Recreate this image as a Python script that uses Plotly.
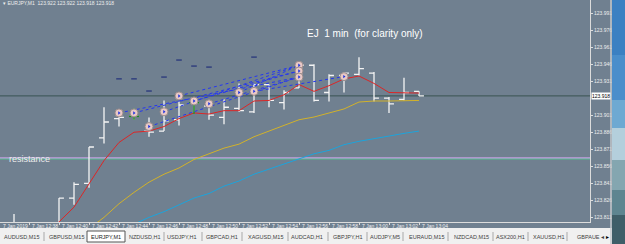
import plotly.graph_objects as go
import pandas as pd

# ---------------- data ----------------
times = ["2019-01-07 12:37", "2019-01-07 12:38", "2019-01-07 12:39", "2019-01-07 12:40",
         "2019-01-07 12:41", "2019-01-07 12:42", "2019-01-07 12:43", "2019-01-07 12:44",
         "2019-01-07 12:45", "2019-01-07 12:46", "2019-01-07 12:47", "2019-01-07 12:48",
         "2019-01-07 12:49", "2019-01-07 12:50", "2019-01-07 12:51", "2019-01-07 12:52",
         "2019-01-07 12:53", "2019-01-07 12:54", "2019-01-07 12:55", "2019-01-07 12:56",
         "2019-01-07 12:57", "2019-01-07 12:58", "2019-01-07 12:59", "2019-01-07 13:00",
         "2019-01-07 13:01", "2019-01-07 13:02", "2019-01-07 13:03", "2019-01-07 13:04"]
opens = [123.802, 123.803, 123.795, 123.800, 123.828, 123.841, 123.881, 123.898,
         123.900, 123.887, 123.887, 123.897, 123.912, 123.909, 123.899, 123.907,
         123.904, 123.928, 123.912, 123.925, 123.945, 123.921, 123.936, 123.937,
         123.938, 123.916, 123.915, 123.922]
highs = [123.814, 123.805, 123.804, 123.828, 123.842, 123.873, 123.908, 123.901,
         123.907, 123.899, 123.914, 123.913, 123.916, 123.913, 123.915, 123.929,
         123.929, 123.928, 123.923, 123.947, 123.946, 123.937, 123.939, 123.952,
         123.939, 123.917, 123.934, 123.922]
lows = [123.798, 123.790, 123.792, 123.798, 123.822, 123.837, 123.876, 123.891,
        123.897, 123.882, 123.887, 123.892, 123.902, 123.897, 123.893, 123.904,
        123.903, 123.908, 123.906, 123.925, 123.913, 123.913, 123.921, 123.936,
        123.913, 123.903, 123.914, 123.918]
closes = [123.803, 123.795, 123.800, 123.828, 123.840, 123.873, 123.895, 123.899,
          123.900, 123.886, 123.896, 123.910, 123.912, 123.901, 123.908, 123.905,
          123.928, 123.914, 123.921, 123.945, 123.914, 123.936, 123.938, 123.942,
          123.916, 123.911, 123.921, 123.918]

ma_red = [None, None, 123.795, 123.807, 123.820, 123.840, 123.861, 123.877,
          123.886, 123.887, 123.891, 123.898, 123.903, 123.902, 123.905, 123.905,
          123.9135, 123.914, 123.919, 123.928, 123.922, 123.927, 123.933, 123.9355,
          123.929, 123.921, 123.921, 123.9205]
ma_yellow = [None, None, None, None, None, 123.801, 123.811, 123.823,
             123.833, 123.842, 123.849, 123.8545, 123.862, 123.867, 123.872, 123.8755,
             123.882, 123.887, 123.892, 123.897, 123.8994, 123.903, 123.9065, 123.9126,
             123.9135, 123.9135, 123.914, 123.914]
ma_cyan = [None, None, None, None, None, None, None, None,
           123.805, 123.811, 123.816, 123.822, 123.828, 123.832, 123.8385, 123.843,
           123.849, 123.8535, 123.858, 123.862, 123.867, 123.870, 123.875, 123.878,
           123.880, 123.8826, 123.885, 123.887]

doji_times = ["2019-01-07 12:45", "2019-01-07 12:49"]
doji_high = [123.907, 123.916]
doji_low = [123.897, 123.902]
doji_mid = [123.900, 123.912]

circle_times = ["2019-01-07 12:44", "2019-01-07 12:45", "2019-01-07 12:46", "2019-01-07 12:47",
                "2019-01-07 12:48", "2019-01-07 12:49", "2019-01-07 12:50", "2019-01-07 12:52",
                "2019-01-07 12:53", "2019-01-07 12:56", "2019-01-07 12:56", "2019-01-07 12:56",
                "2019-01-07 12:59"]
circle_prices = [123.903, 123.903, 123.891, 123.904, 123.918, 123.9135, 123.911, 123.921,
                 123.922, 123.945, 123.940, 123.9346, 123.935]

tl_start_t = ["2019-01-07 12:44", "2019-01-07 12:45", "2019-01-07 12:46", "2019-01-07 12:47",
              "2019-01-07 12:48", "2019-01-07 12:49", "2019-01-07 12:50", "2019-01-07 12:52",
              "2019-01-07 12:53"]
tl_start_p = [123.903, 123.903, 123.891, 123.904, 123.918, 123.9135, 123.911, 123.921, 123.922]
tl_end_t = ["2019-01-07 12:56", "2019-01-07 12:56", "2019-01-07 12:56", "2019-01-07 12:56",
            "2019-01-07 12:56", "2019-01-07 12:56", "2019-01-07 12:56", "2019-01-07 12:56",
            "2019-01-07 12:59"]
tl_end_p = [123.9346, 123.940, 123.9346, 123.945, 123.945, 123.940, 123.9346, 123.945, 123.935]

dash_times = ["2019-01-07 12:44", "2019-01-07 12:45", "2019-01-07 12:46", "2019-01-07 12:47",
              "2019-01-07 12:48", "2019-01-07 12:49", "2019-01-07 12:50", "2019-01-07 12:53"]
dash_prices = [123.933, 123.933, 123.9223, 123.9346, 123.9496, 123.9443, 123.9434, 123.9522]

bid_price = 123.918
resistance_price = 123.8624

price_ticks = [123.991, 123.976, 123.961, 123.946, 123.931, 123.901, 123.886,
               123.871, 123.856, 123.841, 123.826, 123.811]
time_ticks = ["2019-01-07 12:38", "2019-01-07 12:40", "2019-01-07 12:42", "2019-01-07 12:44",
              "2019-01-07 12:46", "2019-01-07 12:48", "2019-01-07 12:50", "2019-01-07 12:52",
              "2019-01-07 12:54", "2019-01-07 12:56", "2019-01-07 12:58", "2019-01-07 13:00",
              "2019-01-07 13:02", "2019-01-07 13:04"]
time_labels = ["7 Jan 12:38", "7 Jan 12:40", "7 Jan 12:42", "7 Jan 12:44", "7 Jan 12:46",
               "7 Jan 12:48", "7 Jan 12:50", "7 Jan 12:52", "7 Jan 12:54", "7 Jan 12:56",
               "7 Jan 12:58", "7 Jan 13:00", "7 Jan 13:02", "7 Jan 13:04"]

tabs = ["AUDUSD,M15", "GBPUSD,M15", "EURJPY,M1", "NZDUSD,H1", "USDJPY,H1", "GBPCAD,H1",
        "XAGUSD,M15", "AUDCAD,H1", "GBPJPY,H1", "AUDJPY,M5", "EURAUD,M15", "NZDCAD,M15",
        "ASX200,H1", "XAUUSD,H1"]

# ---------------- layout helpers ----------------
W, H = 625, 244
PR, PB = 35, 22
PW, PH = W - PR, H - PB
FONT = "Liberation Sans, Arial, sans-serif"
BG = "#708090"


def px(x):
    return x / PW


def py(y):
    return (PH - y) / PH


fig = go.Figure()

# moving averages
for vals, col in [(ma_cyan, "#1ca4dc"), (ma_yellow, "#d2b22a"), (ma_red, "#dc2626")]:
    fig.add_trace(go.Scatter(x=times, y=vals, mode="lines", line=dict(color=col, width=1),
                             hoverinfo="skip"))

# OHLC bars
fig.add_trace(go.Ohlc(x=times, open=opens, high=highs, low=lows, close=closes,
                      increasing=dict(line=dict(color="#f4f4f4", width=1.3)),
                      decreasing=dict(line=dict(color="#f4f4f4", width=1.3)),
                      tickwidth=0.33, hoverinfo="skip"))

# green doji crosses
gx, gy = [], []
half = pd.Timedelta(seconds=20)
for t, hi, lo, md in zip(doji_times, doji_high, doji_low, doji_mid):
    tt = pd.Timestamp(t)
    gx += [tt, tt, None, tt - half, tt + half, None]
    gy += [hi, lo, None, md, md, None]
fig.add_trace(go.Scatter(x=gx, y=gy, mode="lines", line=dict(color="#1e8a1e", width=1.5),
                         hoverinfo="skip"))

# blue dotted trend lines
lx, ly = [], []
for t0, p0, t1, p1 in zip(tl_start_t, tl_start_p, tl_end_t, tl_end_p):
    lx += [t0, t1, None]
    ly += [p0, p1, None]
fig.add_trace(go.Scatter(x=lx, y=ly, mode="lines",
                         line=dict(color="#2436f0", width=1, dash="dot"), hoverinfo="skip"))

# circles
fig.add_trace(go.Scatter(x=circle_times, y=circle_prices, mode="markers",
                         marker=dict(size=8, color="#e9c9c6", line=dict(color="#9a8c8c", width=1)),
                         hoverinfo="skip"))
fig.add_trace(go.Scatter(x=circle_times, y=circle_prices, mode="markers",
                         marker=dict(size=3, symbol="triangle-right", color="#1a30e0"),
                         hoverinfo="skip"))

# small dashes
fig.add_trace(go.Scatter(x=dash_times, y=dash_prices, mode="markers",
                         marker=dict(size=4, symbol="line-ew", line=dict(color="#22307a", width=1.2)),
                         hoverinfo="skip"))

shapes = []
# bid line and resistance
shapes.append(dict(type="line", xref="paper", x0=0, x1=1, yref="y", y0=bid_price, y1=bid_price,
                   line=dict(color="#395352", width=1), layer="below"))
shapes.append(dict(type="line", xref="paper", x0=0, x1=1, yref="y",
                   y0=resistance_price + 0.0009, y1=resistance_price + 0.0009,
                   line=dict(color="#c49ee0", width=1.4), layer="below"))
shapes.append(dict(type="line", xref="paper", x0=0, x1=1, yref="y",
                   y0=resistance_price, y1=resistance_price,
                   line=dict(color="#48d890", width=0.7), layer="below"))

# tab bar
shapes.append(dict(type="rect", xref="paper", yref="paper", x0=px(0), x1=px(612),
                   y0=py(244), y1=py(228), fillcolor="#f0f0f0", line=dict(width=0), layer="below"))
shapes.append(dict(type="rect", xref="paper", yref="paper", x0=px(87), x1=px(125),
                   y0=py(242), y1=py(231), fillcolor="#ffffff", line=dict(color="#555555", width=1),
                   layer="below"))
for sx in [44, 164, 202, 242, 288, 328, 367, 403, 448, 493, 528, 567]:
    shapes.append(dict(type="line", xref="paper", yref="paper", x0=px(sx), x1=px(sx),
                       y0=py(241), y1=py(232), line=dict(color="#a8a8a8", width=1), layer="below"))

# right desktop strip
strip = [(0, 55, "#3b80c2"), (55, 100, "#4a8ecb"), (100, 128, "#6ea9d2"),
         (128, 160, "#b4cfdc"), (160, 190, "#84a6b0"), (190, 215, "#5e8590"), (215, 244, "#3f5e68")]
for y0, y1, c in strip:
    shapes.append(dict(type="rect", xref="paper", yref="paper", x0=px(612), x1=px(626),
                       y0=py(y1), y1=py(y0), fillcolor=c, line=dict(width=0)))
shapes.append(dict(type="line", xref="paper", yref="paper", x0=px(611), x1=px(611),
                   y0=py(244), y1=py(0), line=dict(color="#c4c8cc", width=1.5)))

annotations = []
annotations.append(dict(xref="paper", yref="paper", x=px(305), y=py(33), xanchor="left",
                        yanchor="middle", text="EJ  1 min  (for clarity only)", showarrow=False,
                        font=dict(family=FONT, size=10, color="#ffffff")))
annotations.append(dict(xref="paper", yref="y", x=px(7), y=resistance_price, xanchor="left",
                        yanchor="middle", text="resistance", showarrow=False,
                        font=dict(family=FONT, size=9, color="#eeeeee")))
annotations.append(dict(xref="paper", yref="paper", x=px(1), y=py(3.5), xanchor="left",
                        yanchor="middle", text="▾ EURJPY,M1  123.922 123.922 123.918 123.918",
                        showarrow=False, font=dict(family=FONT, size=5, color="#eeeeee")))
annotations.append(dict(xref="paper", yref="paper", x=px(1), y=py(226.3), xanchor="left",
                        yanchor="middle", text="7 Jan 2019", showarrow=False,
                        font=dict(family=FONT, size=5, color="#f2f2f2")))
# time labels placed on the x scale, to the right of each tick
for tv, tl in zip(time_ticks, time_labels):
    annotations.append(dict(xref="x", yref="paper", x=tv, y=py(226.3), xanchor="left",
                            yanchor="middle", xshift=1, text=tl, showarrow=False,
                            font=dict(family=FONT, size=5, color="#f2f2f2")))
annotations.append(dict(xref="paper", yref="y", x=px(591), y=bid_price, xanchor="left",
                        yanchor="middle", text="123.918", showarrow=False, bgcolor="#ffffff",
                        borderpad=0, font=dict(family=FONT, size=5, color="#000000")))
tab_centers = [21, 66, 106, 144, 182, 222, 265, 307, 348, 385, 426, 471, 510, 548]
for name, cx in zip(tabs, tab_centers):
    annotations.append(dict(xref="paper", yref="paper", x=px(cx), y=py(237), xanchor="center",
                            yanchor="middle", text=name, showarrow=False,
                            font=dict(family=FONT, size=5.5,
                                      color="#202020" if name == "EURJPY,M1" else "#404040")))
annotations.append(dict(xref="paper", yref="paper", x=px(575), y=py(237), xanchor="left",
                        yanchor="middle", text="GBPAUE ◂", showarrow=False,
                        font=dict(family=FONT, size=5.5, color="#404040")))
annotations.append(dict(xref="paper", yref="paper", x=px(607), y=py(237), xanchor="center",
                        yanchor="middle", text="▸", showarrow=False,
                        font=dict(family=FONT, size=6, color="#000000")))

fig.update_layout(
    width=W, height=H, margin=dict(l=0, r=PR, t=0, b=PB, pad=0),
    paper_bgcolor=BG, plot_bgcolor=BG, showlegend=False,
    shapes=shapes, annotations=annotations,
    xaxis=dict(type="date", range=["2019-01-07 12:36:04", "2019-01-07 13:15:24"],
               showgrid=False, zeroline=False, showline=True, linecolor="#dcdcdc", linewidth=1,
               ticks="outside", ticklen=2, tickcolor="#dcdcdc", tickvals=time_ticks,
               showticklabels=False, rangeslider=dict(visible=False), fixedrange=True),
    yaxis=dict(side="right", range=[123.8069, 124.0025], showgrid=False, zeroline=False,
               showline=True, linecolor="#dcdcdc", linewidth=1, ticks="outside", ticklen=2,
               tickcolor="#dcdcdc", tickvals=price_ticks,
               ticktext=[f"{v:.3f}" for v in price_ticks],
               tickfont=dict(family=FONT, size=5, color="#eeeeee"), fixedrange=True),
)

fig.write_html("out.html")
